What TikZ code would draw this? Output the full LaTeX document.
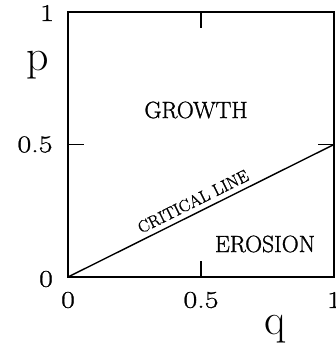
\documentclass[tikz,border=0pt]{standalone}
\usepackage{fontspec}
\newfontfamily\tickfont{Latin Modern Roman}[FakeStretch=1.25, FakeBold=1]
\newfontfamily\boldish{Latin Modern Roman}[FakeBold=1.2]
\usetikzlibrary{positioning}
\tikzset{
	frame/.style={line width=1.8pt, black},
	tickmark/.style={line width=1.8pt, black},
	ticklbl/.style={inner sep=0pt, font=\tickfont\fontsize{24}{28}\selectfont},
	axislbl/.style={inner sep=0pt, font=\fontsize{44}{48}\selectfont},
	region/.style={inner sep=0pt, font=\boldish\fontsize{23.5}{26}\selectfont},
	critline/.style={line width=1.4pt, black}
}

\begin{document}
\begin{tikzpicture}[x=1pt, y=1pt]
	\useasboundingbox (0,0) rectangle (336,349);
	% frame of the plot
	\coordinate (o) at (68,72);
	\coordinate (tr) at (334,337);
	\draw[frame] (o) rectangle (tr);
	% ticks at 0.5
	\coordinate (xb) at (201,72);
	\coordinate (xt) at (201,337);
	\coordinate (yl) at (68,204.5);
	\coordinate (yr) at (334,204.5);
	\draw[tickmark] (xb) -- ++(0,16);
	\draw[tickmark] (xt) -- ++(0,-16);
	\draw[tickmark] (yl) -- ++(16,0);
	\draw[tickmark] (yr) -- ++(-16,0);
	% tick labels
	\node[ticklbl] (x0) at (68,49) {0};
	\node[ticklbl] (xh) at (201,49) {0.5};
	\node[ticklbl] (x1) at (334,49) {1};
	\node[ticklbl] (y0) at (46,70) {0};
	\node[ticklbl] (yh) at (35,204.5) {0.5};
	\node[ticklbl] (y1) at (47,336) {1};
	% axis names
	\node[axislbl] (plbl) at (38,284) {p};
	\node[axislbl] (qlbl) at (275,20) {q};
	% regions
	\node[region] (grow) at (196,239) {GROWTH};
	\node[region] (eros) at (265,105) {EROSION};
	\draw[critline] (o) -- node[pos=0.49, sloped, above=5pt, inner sep=0pt,
		font=\boldish\fontsize{17}{20}\selectfont] (crit) {CRITICAL LINE} (yr);
\end{tikzpicture}
\end{document}
